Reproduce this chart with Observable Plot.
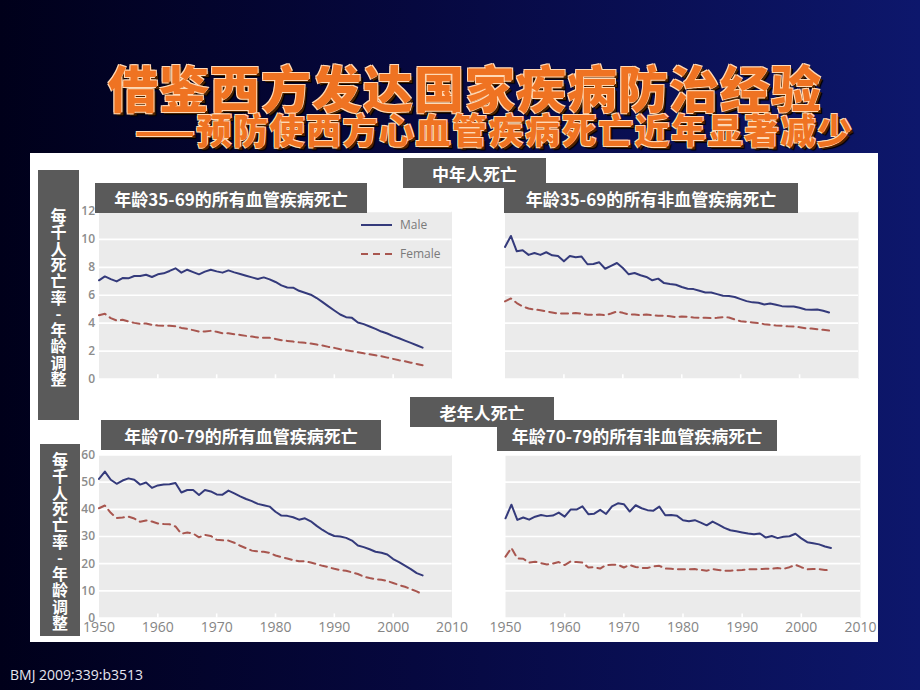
<!DOCTYPE html>
<html><head><meta charset="utf-8">
<script src="https://cdn.jsdelivr.net/npm/d3@7"></script>
<script src="https://cdn.jsdelivr.net/npm/@observablehq/plot@0.6"></script>
<style>
html,body{margin:0;padding:0;}
body{width:920px;height:690px;overflow:hidden;position:relative;
 background:linear-gradient(to right,#00001a 0%,#06083f 45%,#0d176c 100%);
 font-family:"Noto Sans CJK SC","Noto Sans",sans-serif;}
.abs{position:absolute;}
.ttl{white-space:nowrap;font-weight:900;color:#ef7322;
 text-shadow:-1px -1px 0 #ffd9b5,1px -1px 0 #ffd9b5,-1px 1px 0 #ffd9b5,2px 2px 0 #4a2200,3px 3px 1px #000;}
#title{left:108px;top:64px;font-size:50px;line-height:45px;height:45px;letter-spacing:1px;}
#subtitle{left:135px;top:112px;font-size:35px;line-height:34px;height:34px;letter-spacing:1.5px;}
#panel{left:30px;top:153px;width:848px;height:489px;background:#fff;}
.box{background:#5a5a5a;color:#fff;font-weight:700;font-size:17px;display:flex;align-items:center;justify-content:center;white-space:nowrap;line-height:1;}
.vbox{background:#5a5a5a;}
.vtext{writing-mode:vertical-rl;text-orientation:upright;color:#fff;font-weight:700;font-size:16px;line-height:1;letter-spacing:0.3px;white-space:nowrap;}
#caption{left:10px;top:665px;font-family:"Open Sans",sans-serif;font-size:14px;color:#e6e6f0;}
</style></head>
<body>
<div id="title" class="abs ttl">借鉴西方发达国家疾病防治经验</div>
<div id="subtitle" class="abs ttl">——预防使西方心血管疾病死亡近年显著减少</div>
<div id="panel" class="abs"></div>
<div id="c1" class="abs" style="left:60px;top:200px"></div>
<div id="c2" class="abs" style="left:480px;top:200px"></div>
<div id="c3" class="abs" style="left:60px;top:440px"></div>
<div id="c4" class="abs" style="left:480px;top:440px"></div>
<div id="legend" class="abs" style="left:355px;top:215px"></div>
<div class="abs vbox" style="left:38px;top:170px;width:41px;height:250px"></div>
<div class="abs vbox" style="left:40px;top:444px;width:40px;height:192px"></div>
<div id="v1" class="abs vtext" style="left:50.5px;top:208px"></div>
<div id="v2" class="abs vtext" style="left:52px;top:452px"></div>
<div class="abs box" style="left:403px;top:158px;width:143px;height:30px">中年人死亡</div>
<div class="abs box" style="left:410px;top:397px;width:144px;height:30px">老年人死亡</div>
<div class="abs box" style="left:95px;top:183px;width:272px;height:30px">年龄35-69的所有血管疾病死亡</div>
<div class="abs box" style="left:504px;top:183px;width:294px;height:30px">年龄35-69的所有非血管疾病死亡</div>
<div class="abs box" style="left:101px;top:420px;width:280px;height:30px">年龄70-79的所有血管疾病死亡</div>
<div class="abs box" style="left:497px;top:420px;width:280px;height:31px">年龄70-79的所有非血管疾病死亡</div>
<div id="caption" class="abs">BMJ 2009;339:b3513</div>
<script>
const years = [
 1950,1951,1952,1953,1954,1955,1956,1957,1958,1959,
 1960,1961,1962,1963,1964,1965,1966,1967,1968,1969,
 1970,1971,1972,1973,1974,1975,1976,1977,1978,1979,
 1980,1981,1982,1983,1984,1985,1986,1987,1988,1989,
 1990,1991,1992,1993,1994,1995,1996,1997,1998,1999,
 2000,2001,2002,2003,2004,2005];
const xTicks = [1950,1960,1970,1980,1990,2000,2010];
const yTicksMid = [0,2,4,6,8,10,12];
const yTicksOld = [0,10,20,30,40,50,60];
const seriesNames = ["Male","Female"];
const yAxisTitle = "每千人死亡率-年龄调整";

// Age 35-69, vascular
const midVascMale = [
 7.07,7.35,7.16,6.99,7.23,7.21,7.38,7.38,7.47,7.31,
 7.50,7.57,7.74,7.93,7.62,7.83,7.66,7.50,7.69,7.83,
 7.71,7.62,7.78,7.64,7.52,7.40,7.28,7.16,7.28,7.14,
 6.95,6.71,6.56,6.54,6.32,6.18,6.04,5.80,5.51,5.20,
 4.91,4.62,4.43,4.38,4.05,3.93,3.76,3.59,3.40,3.26,
 3.07,2.92,2.75,2.59,2.42,2.25];
const midVascFemale = [
 4.57,4.67,4.36,4.19,4.24,4.12,4.02,3.95,3.98,3.88,
 3.83,3.81,3.81,3.78,3.66,3.59,3.50,3.40,3.40,3.45,
 3.38,3.28,3.28,3.21,3.16,3.09,3.04,2.97,2.95,2.95,
 2.87,2.78,2.73,2.68,2.63,2.59,2.54,2.47,2.40,2.30,
 2.23,2.13,2.06,1.99,1.92,1.84,1.77,1.70,1.63,1.53,
 1.44,1.34,1.27,1.17,1.08,0.98];
// Age 35-69, non-vascular
const midNonVascMale = [
 9.46,10.25,9.15,9.22,8.89,9.03,8.89,9.08,8.86,8.81,
 8.43,8.81,8.72,8.77,8.22,8.24,8.36,7.90,8.10,8.31,
 7.95,7.50,7.59,7.43,7.31,7.07,7.19,6.87,6.80,6.75,
 6.59,6.47,6.44,6.32,6.20,6.20,6.08,5.96,5.94,5.87,
 5.72,5.58,5.49,5.46,5.34,5.41,5.32,5.22,5.20,5.20,
 5.10,4.98,4.96,4.98,4.89,4.77];
const midNonVascFemale = [
 5.56,5.77,5.44,5.20,5.05,4.98,4.93,4.84,4.77,4.69,
 4.69,4.69,4.72,4.69,4.60,4.60,4.62,4.57,4.69,4.84,
 4.74,4.62,4.62,4.57,4.62,4.57,4.53,4.53,4.50,4.43,
 4.48,4.46,4.41,4.38,4.38,4.36,4.38,4.43,4.41,4.26,
 4.14,4.10,4.05,4.00,3.93,3.88,3.83,3.81,3.78,3.76,
 3.71,3.64,3.62,3.57,3.52,3.47];
// Age 70-79, vascular
const oldVascMale = [
 51.2,53.9,50.9,49.4,50.6,51.4,50.9,49.1,49.9,47.9,
 48.8,49.1,49.2,49.7,46.2,47.1,47.1,45.3,47.1,46.6,
 45.5,45.4,46.9,45.9,44.8,43.8,43.0,42.0,41.5,41.0,
 39.1,37.7,37.6,37.1,36.2,36.7,35.6,33.9,32.4,31.1,
 30.2,30.0,29.5,28.5,26.7,26.1,25.3,24.4,24.0,23.4,
 21.7,20.6,19.3,18.0,16.5,15.7];
const oldVascFemale = [
 40.4,41.4,38.7,36.8,37.0,37.3,36.6,35.4,35.9,35.5,
 34.8,34.6,34.5,33.7,31.0,31.5,31.1,29.7,30.6,30.2,
 28.8,28.6,28.5,27.7,26.6,25.7,24.8,24.5,24.4,24.0,
 23.0,22.4,21.9,21.3,20.9,20.9,20.4,19.8,19.2,18.7,
 18.1,17.6,17.4,16.8,16.2,15.2,14.7,14.3,14.1,13.6,
 12.9,12.1,11.5,10.6,9.8,8.7];
// Age 70-79, non-vascular
const oldNonVascMale = [
 36.7,41.7,36.1,37.0,36.2,37.3,37.9,37.5,37.7,38.8,
 37.3,39.9,39.9,41.1,38.2,38.4,39.8,38.3,41.1,42.2,
 41.9,39.2,41.5,40.4,39.7,39.5,41.0,37.8,37.9,37.6,
 36.0,35.6,36.0,35.1,34.1,35.5,34.4,33.2,32.3,31.9,
 31.5,31.1,30.8,31.1,29.6,30.2,29.4,29.9,30.1,31.0,
 29.3,27.9,27.5,27.1,26.3,25.8];
const oldNonVascFemale = [
 22.6,25.8,21.9,21.8,20.4,20.7,20.2,19.7,20.0,20.6,
 19.5,20.8,20.6,20.4,18.6,18.7,18.2,19.5,19.6,19.6,
 18.6,19.5,18.8,18.4,18.4,19.0,19.2,18.2,18.1,18.0,
 17.9,17.9,18.0,17.7,17.4,18.0,17.7,17.4,17.4,17.6,
 17.7,17.9,17.9,18.0,18.1,18.1,18.4,18.1,18.7,19.6,
 18.7,17.9,18.0,18.0,17.7,17.5];

const MALE_COLOR = "#343a7b";
const FEMALE_COLOR = "#a8564f";

function rows(vals, sex) { return years.map((yr, i) => ({year: yr, value: vals[i], sex})); }

function chart(o) {
  const yMax = o.yTicks[o.yTicks.length - 1];
  const marks = [
    Plot.frame({fill: "#ebebeb", stroke: "none"}),
    Plot.gridY(o.yTicks, {stroke: "#ffffff", strokeOpacity: 1, strokeWidth: 1.6}),
    Plot.ruleX(xTicks.slice(1, -1), {y1: 0, y2: yMax * 0.025, stroke: "#ffffff", strokeWidth: 1.6}),
    Plot.line(rows(o.female, seriesNames[1]), {x: "year", y: "value", stroke: FEMALE_COLOR, strokeWidth: 2, strokeDasharray: "7,5"}),
    Plot.line(rows(o.male, seriesNames[0]), {x: "year", y: "value", stroke: MALE_COLOR, strokeWidth: 2})
  ];
  if (o.showY) marks.push(Plot.axisY(o.yTicks, {tickSize: 0, tickPadding: 4, fill: "#8c8c8c", fontSize: 12, fontWeight: 600, label: null}));
  if (o.showX) marks.push(Plot.axisX(xTicks, {tickSize: 0, tickPadding: 4, fill: "#858585", fontSize: 14, tickFormat: d => String(d), label: null}));
  const x = {domain: [1950, 2010], label: null};
  const y = {domain: [0, yMax], label: null};
  if (!o.showX) x.axis = null;
  if (!o.showY) y.axis = null;
  return Plot.plot({
    width: o.width, height: o.height,
    marginLeft: o.ml, marginRight: o.mr, marginTop: o.mt, marginBottom: o.mb,
    x, y,
    style: {fontFamily: "'Open Sans', sans-serif", background: "transparent", overflow: "visible"},
    marks
  });
}

document.getElementById("c1").append(chart({male: midVascMale, female: midVascFemale, yTicks: yTicksMid, showY: true, showX: false,
  width: 400, height: 190, ml: 38.5, mr: 8.5, mt: 11, mb: 11.5}));
document.getElementById("c2").append(chart({male: midNonVascMale, female: midNonVascFemale, yTicks: yTicksMid, showY: false, showX: false,
  width: 390, height: 190, ml: 24.5, mr: 12, mt: 11, mb: 11.5}));
document.getElementById("c3").append(chart({male: oldVascMale, female: oldVascFemale, yTicks: yTicksOld, showY: true, showX: true,
  width: 410, height: 200, ml: 38.5, mr: 18.5, mt: 14.5, mb: 22.5}));
document.getElementById("c4").append(chart({male: oldNonVascMale, female: oldNonVascFemale, yTicks: yTicksOld, showY: false, showX: true,
  width: 400, height: 200, ml: 25, mr: 20, mt: 14.5, mb: 22.5}));

// legend
const lg = d3.select("#legend").append("svg").attr("width", 100).attr("height", 50);
seriesNames.forEach((name, i) => {
  const yy = i === 0 ? 10 : 39;
  lg.append("line").attr("x1", 6).attr("x2", 37).attr("y1", yy).attr("y2", yy)
    .attr("stroke", i === 0 ? MALE_COLOR : FEMALE_COLOR).attr("stroke-width", 2)
    .attr("stroke-dasharray", i === 0 ? null : "7,5");
  lg.append("text").attr("x", 45).attr("y", yy).attr("dy", "0.35em")
    .attr("fill", "#7a7a7a").attr("font-size", 12).attr("font-family", "'Open Sans', sans-serif").text(name);
});

// vertical y-axis titles
document.getElementById("v1").textContent = yAxisTitle;
document.getElementById("v2").textContent = yAxisTitle;
</script>
</body></html>
